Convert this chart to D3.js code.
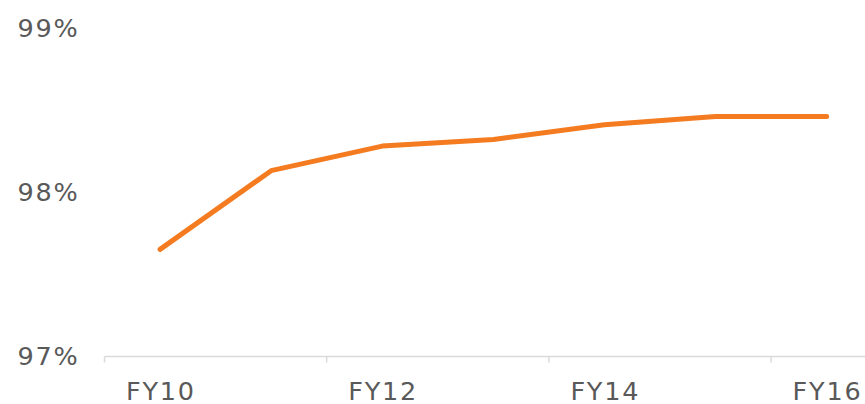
<!DOCTYPE html>
<html><head><meta charset="utf-8">
<script src="https://cdn.jsdelivr.net/npm/d3@7"></script>
<style>body{margin:0;background:#fff}svg{display:block}</style>
</head><body>
<svg id="c" width="865" height="404"></svg>
<script>
const categories = ["FY10","FY11","FY12","FY13","FY14","FY15","FY16"];
const values = [97.65, 98.13, 98.28, 98.32, 98.41, 98.46, 98.46];
const yTicks = [97, 98, 99];
const xLabels = ["FY10","FY12","FY14","FY16"];

const svg = d3.select("#c");
const x = d3.scaleBand().domain(categories).range([104.5, 104.5 + 7 * 111.1]);
const y = d3.scaleLinear().domain([97, 99]).range([356, 28]);
const font = "'DejaVu Sans', Verdana, sans-serif";
const textCol = "#595959";
const fs = 25.5, ls = 1.8;

// y labels
const ya = svg.append("g").attr("transform", "translate(79.5,0)")
  .call(d3.axisLeft(y).tickValues(yTicks).tickSize(0).tickPadding(0).tickFormat(d => d + "%"));
ya.select(".domain").remove();
ya.selectAll("text").attr("font-family", font).attr("font-size", fs)
  .attr("letter-spacing", ls).attr("fill", textCol);

// x axis line
const axisY = 356.5;
svg.append("line").attr("x1", x("FY10")).attr("x2", 865).attr("y1", axisY).attr("y2", axisY)
  .attr("stroke", "#d9d9d9").attr("stroke-width", 1.5);
// tick marks at category boundaries every 2 categories
svg.selectAll("line.tk").data(xLabels).join("line").attr("class", "tk")
  .attr("x1", d => x(d)).attr("x2", d => x(d))
  .attr("y1", axisY).attr("y2", axisY + 6)
  .attr("stroke", "#d9d9d9").attr("stroke-width", 1.5);
// x labels
svg.selectAll("text.xl").data(xLabels).join("text").attr("class", "xl")
  .attr("x", d => x(d) + x.bandwidth() / 2 + ls / 2).attr("y", 400)
  .attr("text-anchor", "middle").attr("font-family", font).attr("font-size", fs)
  .attr("letter-spacing", ls).attr("fill", textCol).text(d => d);

// line
const line = d3.line().x((d, i) => x(categories[i]) + x.bandwidth() / 2).y(d => y(d));
svg.append("path").datum(values).attr("d", line)
  .attr("fill", "none").attr("stroke", "#F47B20").attr("stroke-width", 5)
  .attr("stroke-linecap", "round").attr("stroke-linejoin", "round");
</script>
</body></html>
